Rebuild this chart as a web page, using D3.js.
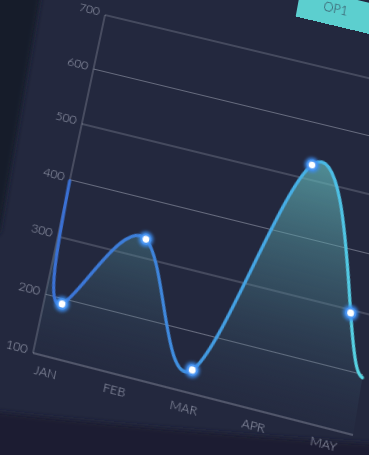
<!DOCTYPE html>
<html>
<head>
<meta charset="utf-8">
<script src="https://cdn.jsdelivr.net/npm/d3@7"></script>
<style>
  html, body { margin: 0; padding: 0; width: 369px; height: 455px; overflow: hidden; background: #23283e; }
  #bg { position: absolute; left: 0; top: 0; }
  #plane { position: absolute; left: 0; top: 0; transform-origin: 0 0; }
  text { font-family: Lato, Roboto, "Noto Sans", sans-serif; }
</style>
</head>
<body>
<svg id="bg" width="369" height="455"></svg>
<div id="plane"></div>
<script>
// ---- data ----
const months = ["JAN", "FEB", "MAR", "APR", "MAY"];
const pointAt = [0.03, 1.02, 2.02, 3.17, 4.07];   // month position of each marker
const values = [191, 332, 138, 526, 295];
const leadValue = 398;   // where the curve enters at the left edge
const trailValue = 195;  // where the curve leaves at the right edge
const yTicks = [100, 200, 300, 400, 500, 600, 700];
const legendLabel = "OP1";

// ---- flat chart geometry ----
const ml = 60, mt = 90, pw = 320, ph = 345;
const FW = ml + pw + 60, FH = mt + ph + 70;

const x = d3.scaleLinear().domain([-0.23, 4.38]).range([0, pw]);
const y = d3.scaleLinear().domain([100, 700]).range([ph, 0]);

const markers = values.map((v, k) => ({ i: pointAt[k], v }));
const series = [{ i: x.domain()[0], v: leadValue }]
  .concat(markers)
  .concat([{ i: x.domain()[1], v: trailValue }]);

// ---- background panels ----
const bg = d3.select("#bg");
const bdefs = bg.append("defs");
bdefs.append("filter").attr("id", "soft").append("feGaussianBlur").attr("stdDeviation", 2.5);
bg.append("rect").attr("width", 369).attr("height", 455).attr("fill", "#23283e");
bg.append("path").attr("d", "M-10,-10 L42,-10 L40,0 L0,232 L-10,240 Z")
  .attr("fill", "#171b2c").attr("filter", "url(#soft)");
bg.append("path").attr("d", "M-10,411 C80,421 200,433 380,444 L380,470 L-10,470 Z")
  .attr("fill", "#1b1f30").attr("filter", "url(#soft)");

// ---- tilted plane: homography from the plot rectangle to a screen quad ----
function squareToQuad(p0, p1, p2, p3) {
  const dx1 = p1[0] - p2[0], dx2 = p3[0] - p2[0], dx3 = p0[0] - p1[0] + p2[0] - p3[0];
  const dy1 = p1[1] - p2[1], dy2 = p3[1] - p2[1], dy3 = p0[1] - p1[1] + p2[1] - p3[1];
  const den = dx1 * dy2 - dx2 * dy1;
  const g = (dx3 * dy2 - dx2 * dy3) / den;
  const h = (dx1 * dy3 - dx3 * dy1) / den;
  return {
    a: p1[0] - p0[0] + g * p1[0], b: p3[0] - p0[0] + h * p3[0], c: p0[0],
    d: p1[1] - p0[1] + g * p1[1], e: p3[1] - p0[1] + h * p3[1], f: p0[1],
    g, h
  };
}
const H = squareToQuad([105, 15], [410, 88], [353, 435], [33, 353]);
const M00 = H.a / pw, M01 = H.b / ph, M02 = -H.a * ml / pw - H.b * mt / ph + H.c;
const M10 = H.d / pw, M11 = H.e / ph, M12 = -H.d * ml / pw - H.e * mt / ph + H.f;
const M20 = H.g / pw, M21 = H.h / ph, M22 = -H.g * ml / pw - H.h * mt / ph + 1;

const plane = d3.select("#plane")
  .style("width", FW + "px").style("height", FH + "px")
  .style("transform", `matrix3d(${M00},${M10},0,${M20},${M01},${M11},0,${M21},0,0,1,0,${M02},${M12},0,${M22})`);

const svg = plane.append("svg").attr("width", FW).attr("height", FH);
const defs = svg.append("defs");

const lineGrad = defs.append("linearGradient").attr("id", "lineGrad")
  .attr("gradientUnits", "userSpaceOnUse").attr("x1", 0).attr("x2", pw).attr("y1", 0).attr("y2", 0);
[[0, "#3a70d4"], [0.4, "#3f8ade"], [0.75, "#48b6e6"], [1, "#58d6e2"]]
  .forEach(([o, c]) => lineGrad.append("stop").attr("offset", o).attr("stop-color", c));

const areaGrad = defs.append("linearGradient").attr("id", "areaGrad")
  .attr("gradientUnits", "userSpaceOnUse").attr("x1", 0).attr("x2", 0)
  .attr("y1", y(560)).attr("y2", y(100));
areaGrad.append("stop").attr("offset", 0).attr("stop-color", "#68c4c4").attr("stop-opacity", 0.7);
areaGrad.append("stop").attr("offset", 0.55).attr("stop-color", "#4f8c98").attr("stop-opacity", 0.35);
areaGrad.append("stop").attr("offset", 1).attr("stop-color", "#36506a").attr("stop-opacity", 0.05);

const glow = defs.append("filter").attr("id", "glow")
  .attr("x", "-100%").attr("y", "-100%").attr("width", "300%").attr("height", "300%");
glow.append("feGaussianBlur").attr("stdDeviation", 1.5);
const core = defs.append("filter").attr("id", "core")
  .attr("x", "-100%").attr("y", "-100%").attr("width", "300%").attr("height", "300%");
core.append("feGaussianBlur").attr("stdDeviation", 0.7);

const g = svg.append("g").attr("transform", `translate(${ml},${mt})`);

// legend chip
const legend = g.append("g").attr("transform", `translate(${193},${-77})`);
legend.append("rect").attr("width", 82).attr("height", 32).attr("fill", "#5ccfcf");
legend.append("text").attr("x", 39).attr("y", 19).attr("text-anchor", "middle")
  .attr("font-size", 13).attr("font-weight", 300).attr("fill", "#34485a").text(legendLabel);

// grid lines (the 100 line doubles as the x axis)
g.append("g").selectAll("line").data(yTicks).join("line")
  .attr("x1", 0).attr("x2", pw).attr("y1", d => y(d)).attr("y2", d => y(d))
  .attr("stroke", d => d === 100 ? "rgba(205,210,222,0.55)" : "rgba(195,200,215,0.42)")
  .attr("stroke-width", 1.1);

// y axis line
g.append("line").attr("x1", 0).attr("x2", 0).attr("y1", y(100)).attr("y2", y(700))
  .attr("stroke", "rgba(195,200,215,0.45)").attr("stroke-width", 1);

// y tick labels
g.append("g").selectAll("text").data(yTicks).join("text")
  .attr("x", -6).attr("y", d => y(d) - 2).attr("dy", "0.35em")
  .attr("text-anchor", "end").attr("font-size", 12.5).attr("font-weight", 300)
  .attr("fill", "rgba(175,180,198,0.85)").text(d => d);

// x tick labels
g.append("g").selectAll("text").data(months).join("text")
  .attr("x", (d, i) => x(i)).attr("y", ph + 19)
  .attr("text-anchor", "middle").attr("font-size", 12.5).attr("font-weight", 300)
  .attr("fill", "rgba(175,180,198,0.85)").text(d => d);

// area + line
const curve = d3.curveNatural;
g.append("path").datum(series)
  .attr("d", d3.area().curve(curve).x(d => x(d.i)).y0(y(100)).y1(d => y(d.v)))
  .attr("fill", "url(#areaGrad)");
g.append("path").datum(series)
  .attr("d", d3.line().curve(curve).x(d => x(d.i)).y(d => y(d.v)))
  .attr("fill", "none").attr("stroke", "url(#lineGrad)").attr("stroke-width", 3.2)
  .attr("stroke-linecap", "round");

// markers
const dots = g.append("g").selectAll("g").data(markers).join("g")
  .attr("transform", d => `translate(${x(d.i)},${y(d.v)})`);
dots.append("circle").attr("r", 7.5).attr("fill", "#3b8cf0").attr("opacity", 0.85).attr("filter", "url(#glow)");
dots.append("circle").attr("r", 5.5).attr("fill", "#4a95f2");
dots.append("circle").attr("r", 3.4).attr("fill", "#ffffff").attr("filter", "url(#core)");
</script>
</body>
</html>
